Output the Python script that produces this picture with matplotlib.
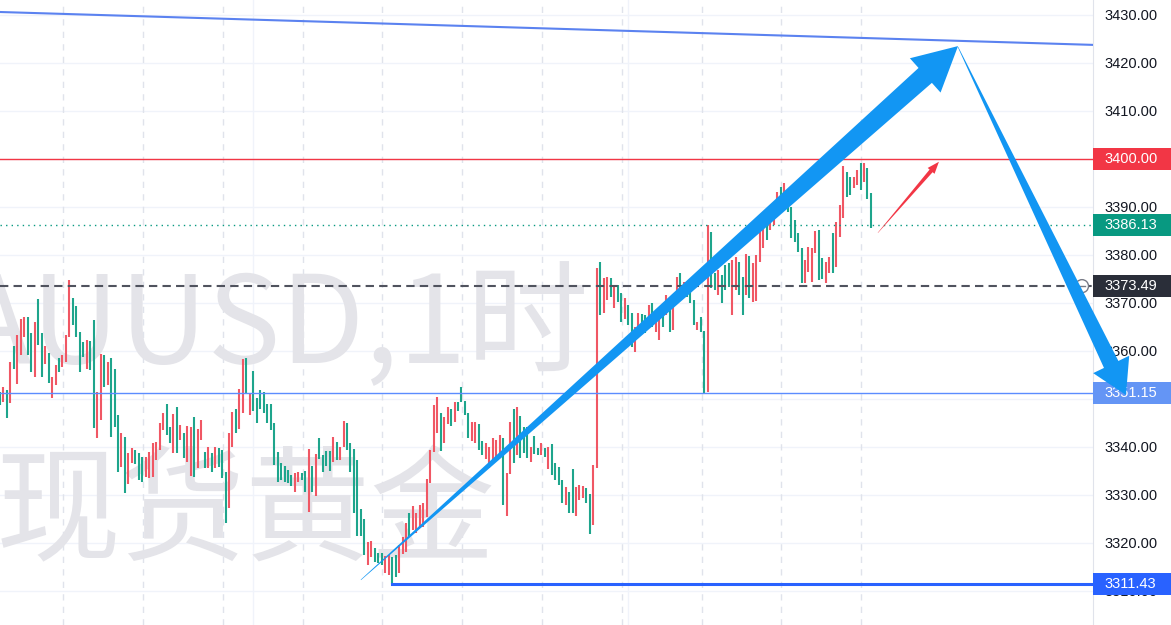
import numpy as np
import matplotlib
matplotlib.use("Agg")
import matplotlib.pyplot as plt
from matplotlib.patches import Polygon, Rectangle, Circle
from matplotlib.transforms import IdentityTransform

# hourly XAUUSD bars (high / low / r=up g=down)
highs = [
    3351.5, 3352.5, 3351.9, 3357.7, 3361.0, 3363.3, 3366.7, 3367.1, 3367.1, 3363.8,
    3366.0, 3370.8, 3363.8, 3361.0, 3359.6, 3354.6, 3357.1, 3358.5, 3359.2, 3363.3,
    3374.8, 3371.0, 3369.4, 3364.0, 3361.9, 3362.3, 3362.1, 3366.5, 3351.5, 3359.4,
    3359.2, 3357.7, 3358.5, 3356.3, 3346.7, 3342.9, 3342.1, 3338.8, 3339.8, 3339.4,
    3338.8, 3337.9, 3337.9, 3339.0, 3340.8, 3341.0, 3345.0, 3347.1, 3348.9, 3344.2,
    3346.9, 3348.3, 3344.6, 3342.9, 3344.4, 3344.2, 3346.3, 3343.8, 3345.6, 3339.0,
    3340.0, 3338.8, 3340.0, 3339.8, 3339.4, 3334.8, 3342.9, 3347.3, 3347.9, 3352.1,
    3358.3, 3358.5, 3351.2, 3355.8, 3350.2, 3351.9, 3351.5, 3348.9, 3348.9, 3345.0,
    3339.0, 3336.7, 3336.0, 3335.2, 3334.2, 3334.6, 3334.8, 3334.6, 3335.0, 3339.6,
    3336.0, 3338.5, 3341.9, 3338.3, 3339.2, 3339.2, 3342.1, 3341.0, 3340.0, 3345.4,
    3345.0, 3340.8, 3339.6, 3337.3, 3327.1, 3325.0, 3320.2, 3320.4, 3319.0, 3317.9,
    3317.9, 3317.3, 3317.5, 3317.1, 3317.5, 3319.6, 3321.3, 3324.2, 3326.3, 3327.7,
    3326.3, 3327.9, 3328.3, 3333.3, 3339.4, 3348.8, 3350.4, 3347.1, 3346.3, 3348.3,
    3347.9, 3349.4, 3349.4, 3352.5, 3349.6, 3347.1, 3345.2, 3345.2, 3344.8, 3341.3,
    3340.8, 3340.0, 3341.9, 3341.5, 3342.5, 3341.9, 3334.6, 3345.2, 3347.9, 3348.3,
    3346.5, 3344.2, 3344.2, 3340.0, 3342.3, 3339.8, 3340.8, 3339.8, 3340.0, 3340.6,
    3336.7, 3335.8, 3333.1, 3331.7, 3330.6, 3335.4, 3331.7, 3332.1, 3331.9, 3331.5,
    3330.2, 3336.3, 3377.3, 3378.5, 3375.2, 3375.4, 3375.2, 3373.8, 3373.8, 3372.1,
    3371.0, 3369.6, 3367.9, 3365.0, 3367.9, 3367.7, 3367.5, 3369.6, 3370.0, 3367.1,
    3367.9, 3368.5, 3371.7, 3368.5, 3371.3, 3375.4, 3376.3, 3374.4, 3372.9, 3372.3,
    3370.6, 3366.0, 3367.1, 3364.2, 3386.3, 3384.8, 3376.3, 3376.9, 3375.8, 3377.9,
    3378.3, 3379.0, 3379.6, 3378.5, 3375.4, 3380.2, 3379.8, 3378.3, 3380.0, 3385.6,
    3388.8, 3387.7, 3387.9, 3389.0, 3393.1, 3394.2, 3395.0, 3393.5, 3390.0, 3387.3,
    3384.6, 3381.5, 3379.0, 3381.7, 3381.5, 3385.0, 3385.2, 3379.4, 3378.5, 3379.6,
    3384.6, 3386.9, 3390.4, 3398.5, 3397.3, 3396.3, 3396.3, 3397.7, 3399.2, 3399.2,
    3398.1, 3392.9,
]
lows = [
    3348.8, 3349.4, 3346.0, 3349.2, 3356.3, 3353.1, 3359.2, 3362.9, 3359.2, 3355.6,
    3354.6, 3361.3, 3354.6, 3357.3, 3353.3, 3350.2, 3352.9, 3355.6, 3356.7, 3357.7,
    3362.9, 3365.4, 3362.9, 3355.6, 3358.8, 3356.3, 3356.0, 3344.0, 3341.9, 3345.6,
    3352.5, 3352.9, 3342.1, 3344.2, 3334.8, 3335.8, 3330.4, 3332.3, 3336.7, 3336.5,
    3333.1, 3332.7, 3333.8, 3333.5, 3333.8, 3337.3, 3339.4, 3343.5, 3342.5, 3340.8,
    3338.8, 3338.8, 3341.5, 3337.7, 3336.9, 3334.0, 3333.8, 3335.6, 3341.5, 3335.6,
    3335.6, 3334.8, 3335.6, 3335.8, 3333.5, 3324.2, 3327.3, 3340.0, 3342.9, 3343.8,
    3347.1, 3351.2, 3346.7, 3347.5, 3345.0, 3347.9, 3347.1, 3345.0, 3343.5, 3336.3,
    3332.7, 3333.1, 3332.7, 3332.5, 3331.9, 3330.6, 3332.7, 3333.1, 3330.6, 3326.5,
    3330.6, 3329.8, 3337.5, 3334.8, 3336.0, 3335.0, 3336.9, 3337.3, 3337.3, 3340.0,
    3339.4, 3334.8, 3326.3, 3321.5, 3321.5, 3317.5, 3315.4, 3317.1, 3316.0, 3315.8,
    3315.4, 3313.8, 3313.3, 3311.4, 3312.9, 3313.8, 3317.7, 3318.1, 3321.3, 3322.7,
    3322.1, 3323.1, 3323.3, 3325.4, 3332.5, 3339.0, 3342.9, 3339.2, 3340.8, 3344.8,
    3344.4, 3345.2, 3347.5, 3349.4, 3346.7, 3341.9, 3341.3, 3340.8, 3339.4, 3338.3,
    3337.5, 3335.6, 3336.5, 3337.9, 3338.5, 3327.9, 3325.6, 3334.4, 3336.7, 3338.3,
    3337.7, 3338.8, 3337.7, 3336.9, 3338.5, 3338.3, 3338.3, 3337.9, 3335.4, 3334.2,
    3333.1, 3332.1, 3328.3, 3327.9, 3326.3, 3326.3, 3325.6, 3329.0, 3329.4, 3328.3,
    3321.9, 3323.8, 3335.6, 3367.5, 3367.9, 3370.6, 3371.3, 3369.0, 3370.2, 3366.0,
    3366.7, 3365.4, 3360.8, 3359.8, 3363.8, 3364.8, 3363.8, 3365.8, 3365.0, 3364.0,
    3362.3, 3365.0, 3367.5, 3364.0, 3364.4, 3370.2, 3372.7, 3372.1, 3371.3, 3370.0,
    3365.4, 3364.4, 3364.0, 3351.2, 3351.5, 3373.1, 3372.7, 3371.7, 3370.0, 3372.7,
    3373.3, 3367.5, 3372.7, 3371.7, 3367.5, 3371.7, 3371.0, 3370.2, 3370.4, 3378.5,
    3381.5, 3383.1, 3385.2, 3386.3, 3389.4, 3389.4, 3391.5, 3389.0, 3383.5, 3382.7,
    3380.6, 3374.2, 3374.2, 3376.5, 3374.4, 3380.4, 3374.8, 3375.0, 3374.2, 3376.3,
    3376.3, 3377.5, 3383.8, 3387.7, 3392.1, 3392.5, 3394.0, 3394.6, 3393.5, 3395.2,
    3391.7, 3385.6,
]
dirs = ("grgrgrrrgg" "rggrgrrgrr" "rggggrggrr" "grgggrgrrg" "ggrrrrrrgg"
        "rgrgrrgrrg" "rgrgggrrgr" "rgrggggggg" "gggggrrggr" "grggggrgrr"
        "ggggggrrgg" "grrggrrrgr" "rrrrrrrgrr" "grggggrrgg" "rrrrrgrrgr"
        "gggrggrgrg" "gggrggrrrg" "grrgrrgrgg" "rggrrggrgr" "rgrgrrgrgg"
        "grggrggrgg" "grrggrgrrr" "rgrrrgrggg" "ggrrrrggrr" "grrrggrrgr"
        "gg")

# marked levels on the price scale
level_top = 3400.00
level_last = 3386.13
level_mid = 3373.49
level_sup = 3351.15
level_low = 3311.43
price_ticks = list(range(3310, 3431, 10))
watermark1 = "XAUUSD,1时"
watermark2 = "现货黄金"

UP = "#f05764"
DOWN = "#1ea58c"
ARROW = "#1296f3"

W, H = 1171, 625
fig = plt.figure(figsize=(W / 100, H / 100), dpi=100, facecolor="white")
ax = fig.add_axes([0, 0, 1093 / W, 1])
ax.set_facecolor("white")

x = np.arange(len(highs))
ax.set_xlim(0, 315)
ax.set_ylim(3302.9, 3433.1)

# grid + session breaks
for p in price_ticks:
    ax.axhline(p, color="#f0f3fa", lw=1, zorder=0)
for gx in [73, 181]:
    ax.axvline(gx, color="#f0f3fa", lw=1, zorder=0)
for sx in np.arange(18.2, 252, 23):
    ax.axvline(sx, color="#e0e3eb", lw=1, dashes=(4.5, 4.5), zorder=0)

# watermark
ax.text(590 / 1093, 262 / H, watermark1, transform=ax.transAxes, ha="right", va="baseline",
        fontsize=88, color="#e4e4e9", family=["Noto Sans CJK SC", "DejaVu Sans"], zorder=0.5)
ax.text(-4 / 1093, 74 / H, watermark2, transform=ax.transAxes, ha="left", va="baseline",
        fontsize=90, color="#e4e4e9", family=["Noto Sans CJK SC", "DejaVu Sans"], zorder=0.5)

cols = [UP if d == "r" else DOWN for d in dirs]
ax.vlines(x, lows, highs, colors=cols, linewidth=1.5, zorder=2)

# horizontal levels
ax.axhline(level_top, color="#f23645", lw=1, zorder=3)
ax.axhline(level_last, color="#089981", lw=1, dashes=(1, 3), zorder=3)
ax.axhline(level_mid, color="#50535e", lw=1.5, dashes=(4, 2.5), zorder=3)
ax.axhline(level_sup, color="#5b8cff", lw=1, zorder=3)
ax.plot([113, 315], [level_low, level_low], color="#2962ff", lw=2.2, zorder=3)
ax.plot([0, 315], [3430.6, 3423.75], color="#5b82f0", lw=1.5, zorder=3)

# price scale
for s in ["top", "bottom", "left"]:
    ax.spines[s].set_visible(False)
ax.spines["right"].set_color("#e0e3eb")
ax.set_xticks([])
ax.yaxis.tick_right()
ax.set_yticks(price_ticks)
ax.set_yticklabels(["%.2f" % p for p in price_ticks])
ax.tick_params(axis="y", length=0, pad=8, labelsize=10.5, labelcolor="#131722")
for lb in ax.get_yticklabels():
    lb.set_family("Liberation Sans")


def ypix(price):
    return ax.transData.transform((0, price))[1]


def price_box(price, color):
    yc = ypix(price)
    fig.add_artist(Rectangle((1093, yc - 11), 78, 22, transform=IdentityTransform(),
                             color=color, lw=0, zorder=4))
    fig.text(1104 / W, yc / H, "%.2f" % price, ha="left", va="center", color="white",
             fontsize=10.5, family="Liberation Sans", zorder=5)


price_box(level_top, "#f23645")
price_box(level_last, "#089981")
price_box(level_mid, "#2a2e39")
price_box(level_sup, "#6495f5")
price_box(level_low, "#2962ff")

yc = ypix(level_mid)
fig.add_artist(Circle((1082, yc), 6.5, transform=IdentityTransform(), facecolor="white",
                      edgecolor="#787b86", lw=1, zorder=4))
fig.add_artist(plt.Line2D([1079, 1085], [yc, yc], transform=IdentityTransform(),
                          color="#787b86", lw=1, zorder=4))


def taper_arrow(x0, y0, x1, y1, w_tail, w_neck, head_len, head_w, color):
    p0 = ax.transData.transform((x0, y0))
    p1 = ax.transData.transform((x1, y1))
    d = p1 - p0
    u = d / np.hypot(*d)
    n = np.array([-u[1], u[0]])
    neck = p1 - u * head_len
    pts = [p0 + n * w_tail / 2, neck + n * w_neck / 2, neck + n * head_w / 2, p1,
           neck - n * head_w / 2, neck - n * w_neck / 2, p0 - n * w_tail / 2]
    fig.add_artist(Polygon(pts, closed=True, transform=IdentityTransform(),
                           facecolor=color, edgecolor="none", zorder=6))


taper_arrow(104.0, 3312.3, 276.1, 3423.5, 0.5, 20, 44, 46, ARROW)
taper_arrow(276.1, 3423.3, 324.5, 3350.8, 0.5, 16, 34, 40, ARROW)
taper_arrow(253.0, 3384.6, 270.6, 3399.4, 0.3, 4, 12, 9, "#f23645")

fig.savefig("out.png", dpi=100, facecolor="white")
